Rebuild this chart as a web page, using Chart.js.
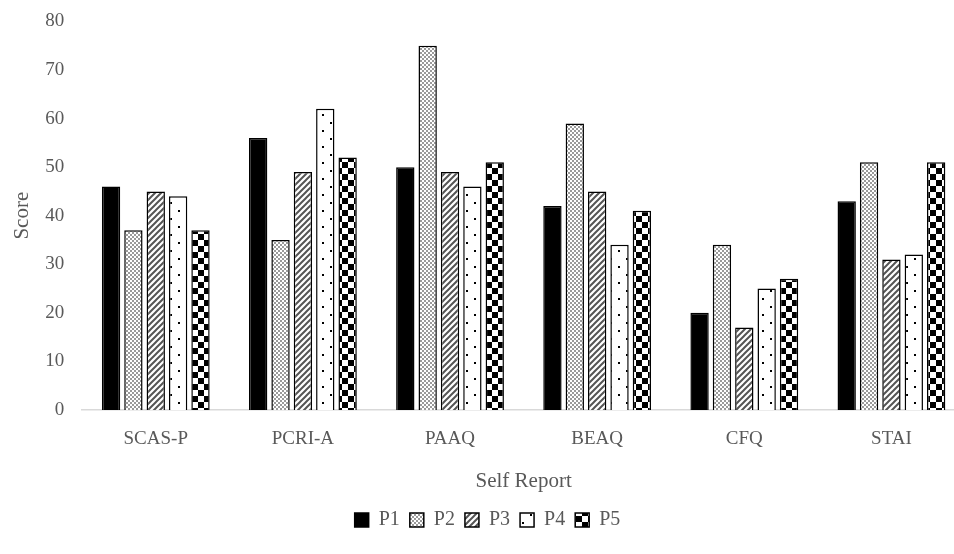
<!DOCTYPE html>
<html>
<head>
<meta charset="utf-8">
<script src="https://cdn.jsdelivr.net/npm/chart.js@4.4.0/dist/chart.umd.min.js"></script>
<style>
  html, body { margin: 0; padding: 0; background: #fff; overflow: hidden; }
  /* the original figure runs a little past the right edge of the window */
  #wrap { width: 966px; height: 554px; }
</style>
</head>
<body>
<div id="wrap"><canvas id="scores"></canvas></div>
<script>
const categories = ["SCAS-P", "PCRI-A", "PAAQ", "BEAQ", "CFQ", "STAI"];
const participants = ["P1", "P2", "P3", "P4", "P5"];
const p1 = [46, 56, 50, 42, 20, 43];
const p2 = [37, 35, 75, 59, 34, 51];
const p3 = [45, 49, 49, 45, 17, 31];
const p4 = [44, 62, 46, 34, 25, 32];
const p5 = [37, 52, 51, 41, 27, 51];
const yTicks = [0, 10, 20, 30, 40, 50, 60, 70, 80];

// little canvas tiles for the hatch fills
function makeTile(size, draw) {
  const c = document.createElement("canvas");
  c.width = size; c.height = size;
  const g = c.getContext("2d");
  g.fillStyle = "#fff";
  g.fillRect(0, 0, size, size);
  draw(g);
  return document.createElement("canvas").getContext("2d").createPattern(c, "repeat");
}

const fineCheck = makeTile(4, g => {
  g.fillStyle = "#9a9a9a";
  g.fillRect(0, 0, 2, 2);
  g.fillRect(2, 2, 2, 2);
});
const stripes = makeTile(6, g => {
  g.strokeStyle = "#555";
  g.lineWidth = 2;
  g.beginPath();
  g.moveTo(-1, 7); g.lineTo(7, -1);
  g.moveTo(-4, 4); g.lineTo(4, -4);
  g.moveTo(2, 10); g.lineTo(10, 2);
  g.stroke();
});
const dots = makeTile(16, g => {
  g.fillStyle = "#000";
  g.fillRect(2, 2, 2, 2);
  g.fillRect(10, 10, 2, 2);
});
const bigCheck = makeTile(12, g => {
  g.fillStyle = "#000";
  g.fillRect(0, 0, 6, 6);
  g.fillRect(6, 6, 6, 6);
});

const fills = ["#000", fineCheck, stripes, dots, bigCheck];
const series = [p1, p2, p3, p4, p5];
const serif = "Liberation Serif";
const gray = "#595959";

const ctx = document.getElementById("scores").getContext("2d");
new Chart(ctx, {
  type: "bar",
  data: {
    labels: categories,
    datasets: series.map((vals, i) => ({
      label: participants[i],
      data: vals,
      backgroundColor: fills[i],
      borderColor: "#000",
      borderWidth: 1.5,
      categoryPercentage: 0.76,
      barPercentage: 0.82
    }))
  },
  options: {
    responsive: true,
    maintainAspectRatio: false,
    animation: false,
    layout: { padding: { top: -4, right: 1, left: 10, bottom: 14 } },
    plugins: {
      tooltip: { enabled: false },
      legend: {
        position: "bottom",
        labels: {
          font: { family: serif, size: 20 },
          color: gray,
          boxWidth: 14,
          boxHeight: 14,
          padding: 10
        }
      }
    },
    scales: {
      x: {
        grid: { display: false },
        border: { color: "#d9d9d9", width: 1.5 },
        ticks: { font: { family: serif, size: 19 }, color: gray, padding: 10 },
        title: {
          display: true,
          text: "Self Report",
          font: { family: serif, size: 21 },
          color: gray,
          padding: { top: 8, bottom: 6 }
        }
      },
      y: {
        min: 0,
        max: 80,
        afterBuildTicks: axis => { axis.ticks = yTicks.map(v => ({ value: v })); },
        grid: { display: false },
        border: { display: false },
        ticks: { font: { family: serif, size: 19 }, color: gray, padding: 10 },
        title: {
          display: true,
          text: "Score",
          font: { family: serif, size: 21 },
          color: gray,
          padding: 0
        }
      }
    }
  }
});
</script>
</body>
</html>
